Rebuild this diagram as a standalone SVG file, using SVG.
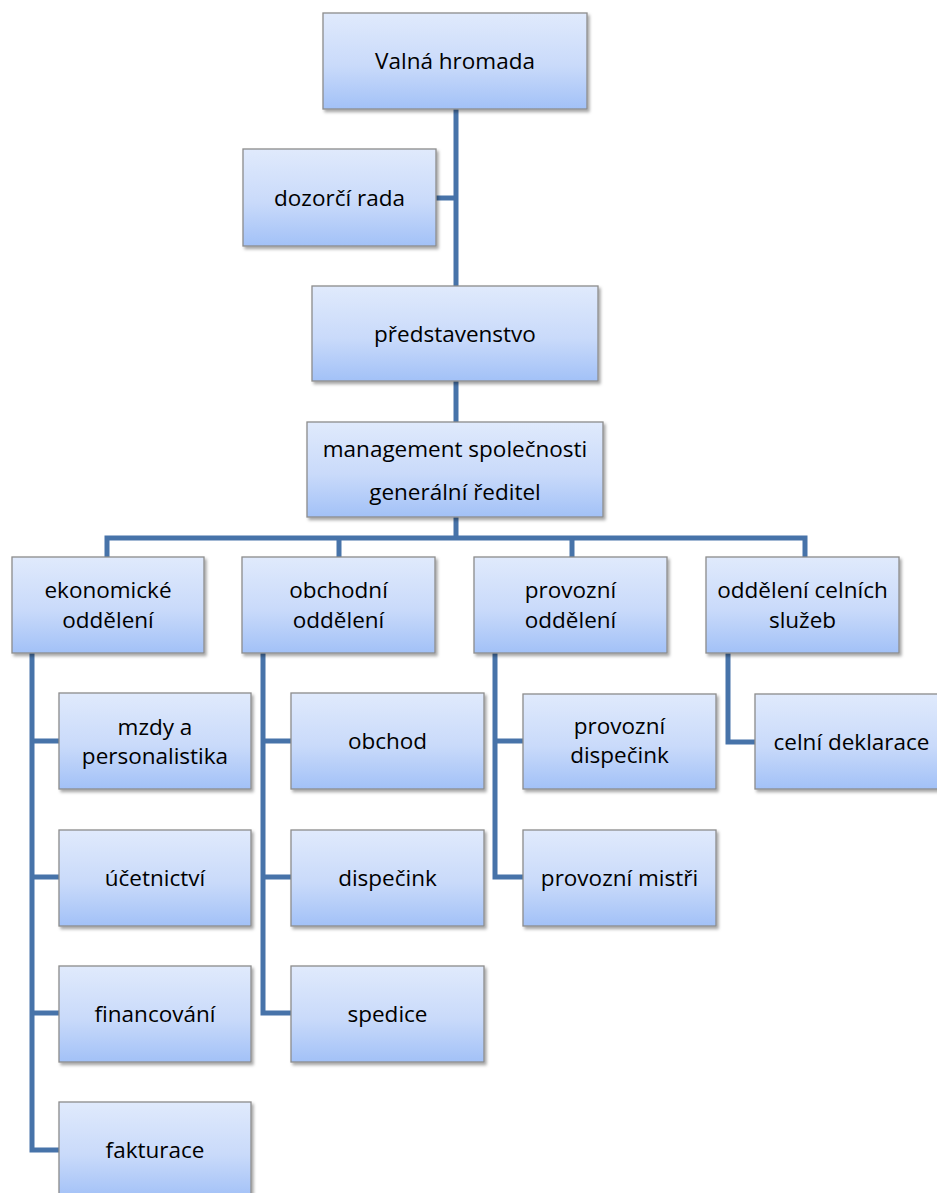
<svg xmlns="http://www.w3.org/2000/svg" width="937" height="1193" viewBox="0 0 937 1193">
<defs>
<linearGradient id="g" x1="0" y1="0" x2="0" y2="1">
<stop offset="0" stop-color="#e0eafc"/>
<stop offset="0.55" stop-color="#c9dafa"/>
<stop offset="1" stop-color="#a2c1f7"/>
</linearGradient>
<filter id="sh" x="-10%" y="-10%" width="130%" height="130%">
<feDropShadow dx="2" dy="2.5" stdDeviation="1.8" flood-color="#000" flood-opacity="0.35"/>
</filter>
</defs>
<style>
.box{fill:url(#g);stroke:#8c8c8c;stroke-width:1.3;filter:url(#sh)}
.t{font-family:"Open Sans","Liberation Sans",sans-serif;font-size:22.5px;fill:#000;text-anchor:middle}
.c{fill:none;stroke:#4773a9;stroke-width:5;stroke-linejoin:miter;stroke-linecap:butt}
</style>
<rect width="937" height="1193" fill="#fff"/>
<g id="connectors">
<path class="c" d="M456 109 V286"/>
<path class="c" d="M436 198 H456"/>
<path class="c" d="M456 381 V422"/>
<path class="c" d="M456 517 V538"/>
<path class="c" d="M107 557 V538 H805 V557"/>
<path class="c" d="M339 538 V557"/>
<path class="c" d="M572 538 V557"/>
<path class="c" d="M32 653 V1150 H59"/>
<path class="c" d="M32 741 H59 M32 877 H59 M32 1013 H59"/>
<path class="c" d="M263 653 V1013 H291"/>
<path class="c" d="M263 741 H291 M263 877 H291"/>
<path class="c" d="M495 653 V877 H523"/>
<path class="c" d="M495 741 H523"/>
<path class="c" d="M728 653 V742 H755"/>
</g>
<g id="valna-hromada"><rect class="box" x="323" y="13" width="264" height="96"/><text class="t" x="455" y="69">Valná hromada</text></g>
<g id="dozorci-rada"><rect class="box" x="243" y="149" width="193" height="97"/><text class="t" x="339.5" y="206">dozorčí rada</text></g>
<g id="predstavenstvo"><rect class="box" x="312" y="286" width="286" height="95"/><text class="t" x="455" y="342">představenstvo</text></g>
<g id="management"><rect class="box" x="307" y="422" width="296" height="95"/><text class="t" x="455" y="457">management společnosti</text><text class="t" x="455" y="500">generální ředitel</text></g>
<g id="ekonomicke"><rect class="box" x="12" y="557" width="192" height="96"/><text class="t" x="108" y="598">ekonomické</text><text class="t" x="108" y="628">oddělení</text></g>
<g id="obchodni"><rect class="box" x="242" y="557" width="193" height="96"/><text class="t" x="338.5" y="598">obchodní</text><text class="t" x="338.5" y="628">oddělení</text></g>
<g id="provozni"><rect class="box" x="474" y="557" width="193" height="96"/><text class="t" x="570.5" y="598">provozní</text><text class="t" x="570.5" y="628">oddělení</text></g>
<g id="celni-sluzby"><rect class="box" x="706" y="557" width="193" height="96"/><text class="t" x="802.5" y="598">oddělení celních</text><text class="t" x="802.5" y="628">služeb</text></g>
<g id="mzdy"><rect class="box" x="59" y="693" width="192" height="96"/><text class="t" x="155" y="735">mzdy a</text><text class="t" x="155" y="764">personalistika</text></g>
<g id="ucetnictvi"><rect class="box" x="59" y="830" width="192" height="96"/><text class="t" x="155" y="886">účetnictví</text></g>
<g id="financovani"><rect class="box" x="59" y="966" width="192" height="96"/><text class="t" x="155" y="1022">financování</text></g>
<g id="fakturace"><rect class="box" x="59" y="1102" width="192" height="96"/><text class="t" x="155" y="1158">fakturace</text></g>
<g id="obchod"><rect class="box" x="291" y="693" width="193" height="96"/><text class="t" x="387.5" y="749">obchod</text></g>
<g id="dispecink"><rect class="box" x="291" y="830" width="193" height="96"/><text class="t" x="387.5" y="886">dispečink</text></g>
<g id="spedice"><rect class="box" x="291" y="966" width="193" height="96"/><text class="t" x="387.5" y="1022">spedice</text></g>
<g id="provozni-dispecink"><rect class="box" x="523" y="694" width="193" height="95"/><text class="t" x="619.5" y="734">provozní</text><text class="t" x="619.5" y="763">dispečink</text></g>
<g id="provozni-mistri"><rect class="box" x="523" y="830" width="193" height="96"/><text class="t" x="619.5" y="886">provozní mistři</text></g>
<g id="celni-deklarace"><rect class="box" x="755" y="694" width="193" height="95"/><text class="t" x="851.5" y="750">celní deklarace</text></g>
</svg>
